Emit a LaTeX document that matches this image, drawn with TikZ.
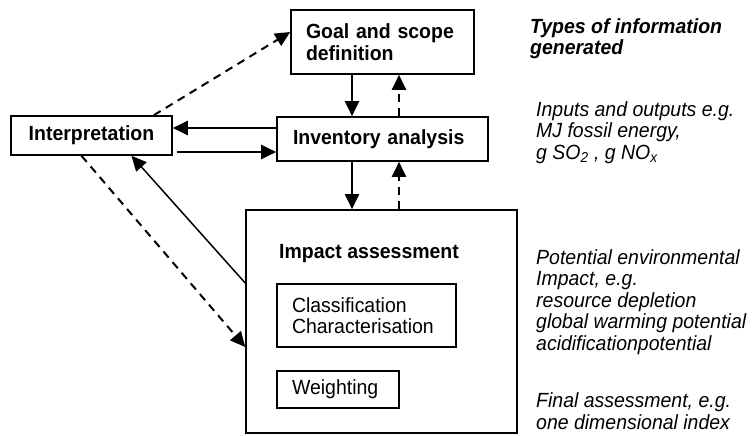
\documentclass[tikz,border=0pt]{standalone}
\usepackage{fontspec}
\setmainfont[FakeStretch=0.95]{Liberation Sans}
\usetikzlibrary{arrows.meta,calc}
\newcommand\myfs{\fontsize{20.5}{21.5}\selectfont}
\begin{document}
\begin{tikzpicture}[x=1pt,y=-1pt,
  every node/.style={font=\myfs},
  box/.style={draw,line width=1.6pt,inner ysep=0pt},
  arr/.style={line width=2pt,-{Triangle[length=15pt,width=14pt]}},
  darr/.style={arr,dash pattern=on 8pt off 6pt},
  tarr/.style={line width=1.5pt,-{Triangle[length=15pt,width=14pt]}},
  info/.style={anchor=base west,align=left,inner sep=0pt,font=\myfs\itshape}]
\useasboundingbox (0,0) rectangle (755,436);
% boxes
\node[box,minimum width=183pt,minimum height=64pt,inner xsep=15pt,text width=153pt,align=left,font=\myfs\bfseries] (goal) at (382.5,42) {Goal and scope\\definition};
\node[box,minimum width=211pt,minimum height=44pt,inner xsep=16pt,text width=179pt,align=left,font=\myfs\bfseries] (inv) at (382.5,139) {Inventory analysis};
\node[box,minimum width=161pt,minimum height=39pt,inner xsep=0pt,font=\myfs\bfseries] (interp) at (91.5,135.5) {Interpretation};
\node[box,minimum width=271pt,minimum height=223pt] (impact) at (381.5,321.5) {};
\node[anchor=base west,inner sep=0pt,font=\myfs\bfseries] (imptitle) at (279,258) {Impact assessment};
\node[box,minimum width=179pt,minimum height=63pt,inner xsep=15pt,text width=149pt,align=left] (class) at (366.5,315.5) {Classification\\Characterisation};
\node[box,minimum width=122pt,minimum height=37pt,inner xsep=15pt,text width=92pt,align=left] (weight) at (338,389.5) {Weighting};
% info column
\node[info,font=\myfs\bfseries\itshape] (types) at (530,55) {Types of information\\generated};
\node[info] (inout) at (536,159) {Inputs and outputs e.g.\\MJ fossil energy,\\g SO\textsubscript{2} , g NO\textsubscript{x}};
\node[info] (pot) at (536,350) {Potential environmental\\Impact, e.g.\\resource depletion\\global warming potential\\acidificationpotential};
\node[info] (final) at (536,429) {Final assessment, e.g.\\one dimensional index};
% connectors
\draw[arr] ([xshift=-30.5pt]goal.south) -- ([xshift=-30.5pt]inv.north);
\draw[darr] ([xshift=16.5pt]inv.north) -- ([xshift=16.5pt]goal.south);
\draw[arr] ([xshift=-30.5pt]inv.south) -- ([xshift=-30.5pt]inv.south |- impact.north);
\draw[darr] ([xshift=16.5pt]inv.south |- impact.north) -- ([xshift=16.5pt]inv.south);
\coordinate (i1) at ([yshift=11pt]inv.west);
\coordinate (i2) at ([yshift=-13pt]inv.west);
\draw[arr] (i1) -- (i1 -| interp.east);
\draw[arr] ($(interp.east |- i2)+(4,0)$) -- (i2);
\draw[darr] ([xshift=-19pt]interp.north east) -- ([yshift=10pt]goal.west);
\draw[darr] ([xshift=-10pt]interp.south) -- ([yshift=-25.5pt]impact.west);
\draw[tarr] ([yshift=38.5pt]impact.west) -- ([xshift=40pt]interp.south);
\end{tikzpicture}
\end{document}
